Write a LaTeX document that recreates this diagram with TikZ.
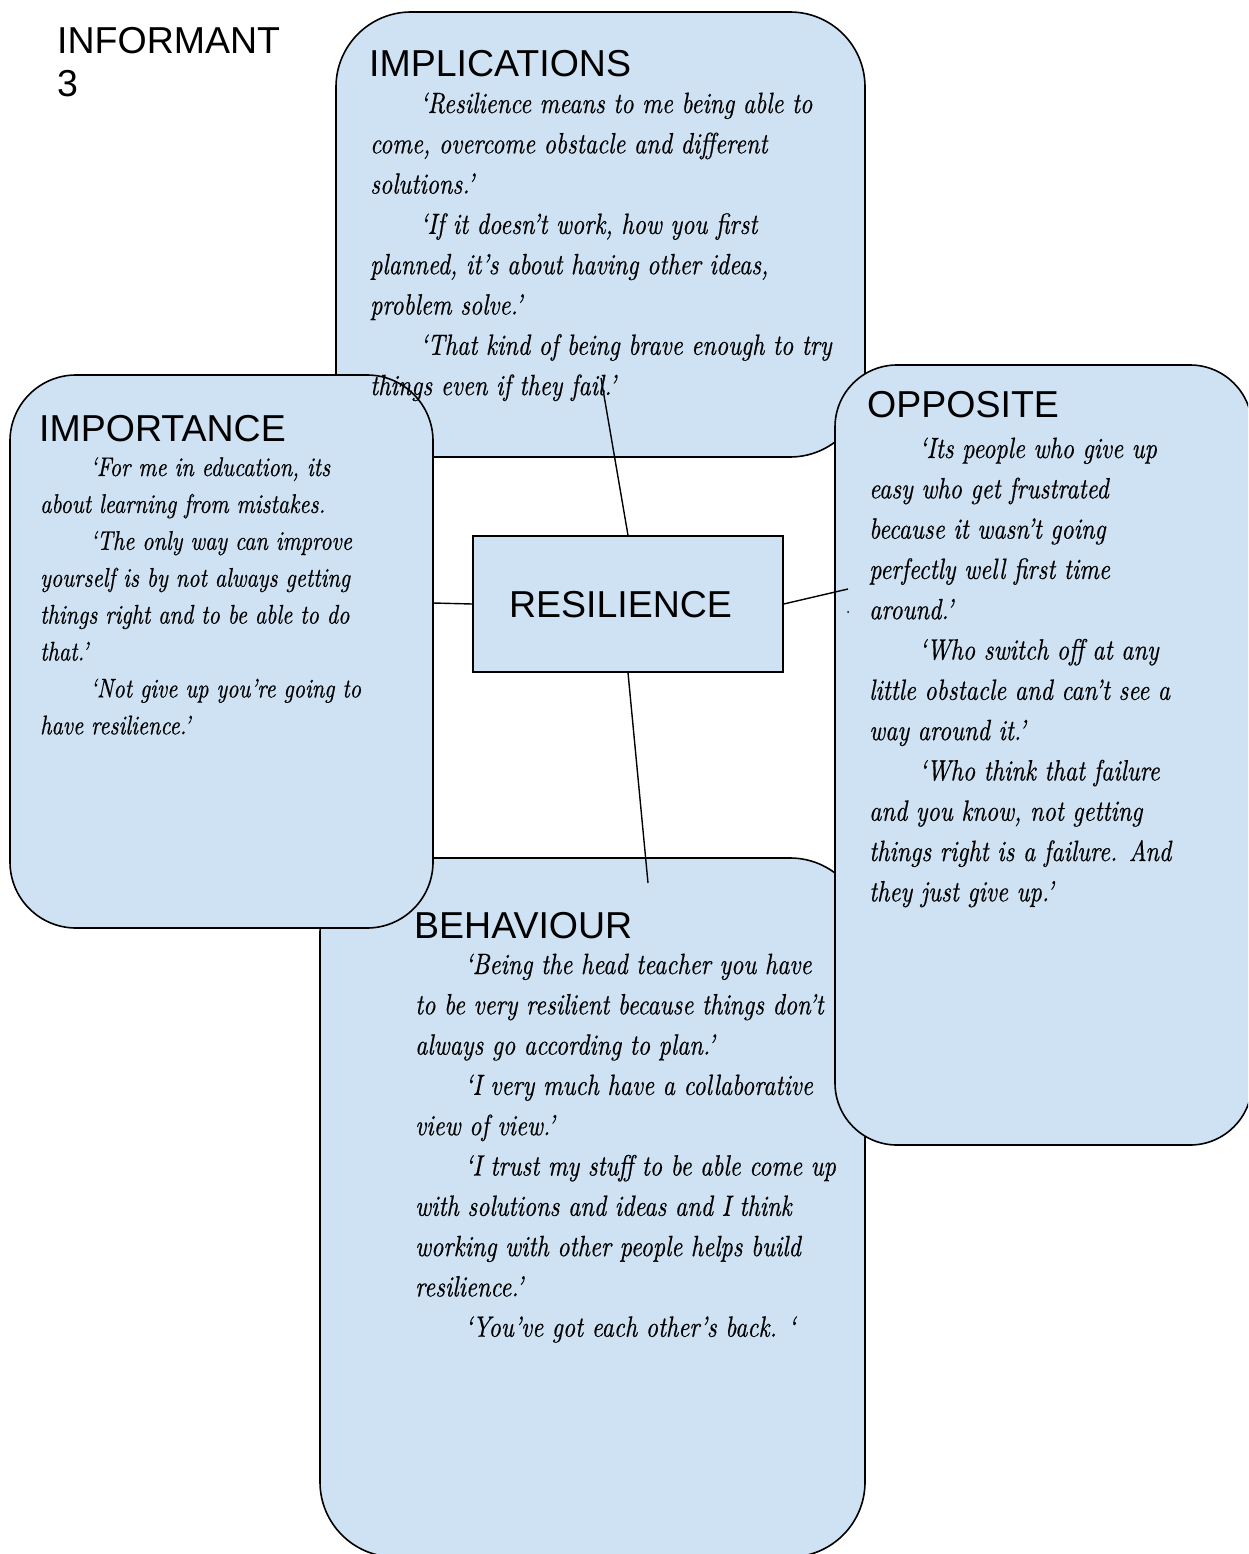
\documentclass[tikz,border=0pt]{standalone}
\usepackage{fontspec}
\newfontfamily\headfont{Liberation Sans}
\newfontface\quotefont{lmroman10-italic.otf}[FakeStretch=0.82,FakeBold=0.5]
\definecolor{panelblue}{HTML}{CFE2F3}

\tikzset{
  panel/.style={draw=black, line width=1.6pt, fill=panelblue, inner sep=0pt},
  link/.style={draw=black, line width=1.4pt},
  headtext/.style={font=\headfont\fontsize{37.5}{45}\selectfont, inner sep=0pt},
  head/.style={headtext, anchor=base west},
  quote/.style={font=\quotefont\fontsize{29.3}{40}\selectfont, inner sep=0pt, anchor=base west},
  smallquote/.style={font=\quotefont\fontsize{27}{37}\selectfont, inner sep=0pt, anchor=base west},
}

% first-line indent of each quotation
\newcommand\qind{\hspace*{50pt}}
% #1 style, #2 name prefix, #3 left x, #4 first baseline, #5 line pitch, #6 lines
\newcommand\quotelines[6]{%
  \foreach \qline [count=\qnum] in {#6} {
    \node[#1] (#2-\qnum) at (#3, {#4+(\qnum-1)*#5}) {\qline};
  }%
}

\begin{document}
\begin{tikzpicture}[x=1pt, y=-1pt]
\useasboundingbox (0,0) rectangle (1248,1554);
\clip (0,0) rectangle (1248,1554);

% panels, back to front
\node[panel, minimum width=545pt, minimum height=699pt, rounded corners=75pt] (behaviour) at (592.5,1207.5) {};
\node[panel, minimum width=529pt, minimum height=445pt, rounded corners=75pt] (implications) at (600.5,234.5) {};
\node[panel, minimum width=423pt, minimum height=553pt, rounded corners=66pt] (importance) at (221.5,651.5) {};
\node[panel, minimum width=417pt, minimum height=780pt, rounded corners=62pt] (opposite) at (1043.5,755) {};

% central concept
\node[panel, line width=1.4pt, minimum width=310pt, minimum height=136pt] (res) at (628,604) {};
\node[headtext] (reslabel) at (620.5,605) {RESILIENCE};

% connectors
\coordinate (implend) at (601,378);
\coordinate (impoend) at (433,603);
\coordinate (oppend) at (848,589);
\coordinate (behend) at (648,883);
\draw[link] (res.north) -- (implend);
\draw[link] (res.west) -- (impoend);
\draw[link] (res.east) -- (oppend);
\draw[link] (res.south) -- (behend);
\fill (848,612) circle (1pt);

% title
\node[head] (inf-1) at (57,54) {INFORMANT};
\node[head] (inf-2) at (57,97) {3};

% headings
\node[head] (implhead) at (369,77) {IMPLICATIONS};
\node[head] (impohead) at (39,441) {IMPORTANCE};
\node[head] (opphead) at (867,417) {OPPOSITE};
\node[head] (behhead) at (414,938) {BEHAVIOUR};

% quotations
\quotelines{quote}{impl}{370}{113}{40.3}{
  {\qind‘Resilience means to me being able to},
  {come, overcome obstacle and different},
  {solutions.’},
  {\qind‘If it doesn’t work, how you first},
  {planned, it’s about having other ideas,},
  {problem solve.’},
  {\qind‘That kind of being brave enough to try},
  {things even if they fail.’}}

\quotelines{smallquote}{impo}{40}{476}{36.9}{
  {\qind‘For me in education, its},
  {about learning from mistakes.},
  {\qind‘The only way can improve},
  {yourself is by not always getting},
  {things right and to be able to do},
  {that.’},
  {\qind‘Not give up you’re going to},
  {have resilience.’}}

\quotelines{quote}{opp}{869}{458}{40.3}{
  {\qind‘Its people who give up},
  {easy who get frustrated},
  {because it wasn’t going},
  {perfectly well first time},
  {around.’},
  {\qind‘Who switch off at any},
  {little obstacle and can’t see a},
  {way around it.’},
  {\qind‘Who think that failure},
  {and you know, not getting},
  {things right is a failure. And},
  {they just give up.’}}

\quotelines{quote}{beh}{415}{974}{40.3}{
  {\qind‘Being the head teacher you have},
  {to be very resilient because things don’t},
  {always go according to plan.’},
  {\qind‘I very much have a collaborative},
  {view of view.’},
  {\qind‘I trust my stuff to be able come up},
  {with solutions and ideas and I think},
  {working with other people helps build},
  {resilience.’},
  {\qind‘You’ve got each other’s back. ‘}}
\end{tikzpicture}
\end{document}
